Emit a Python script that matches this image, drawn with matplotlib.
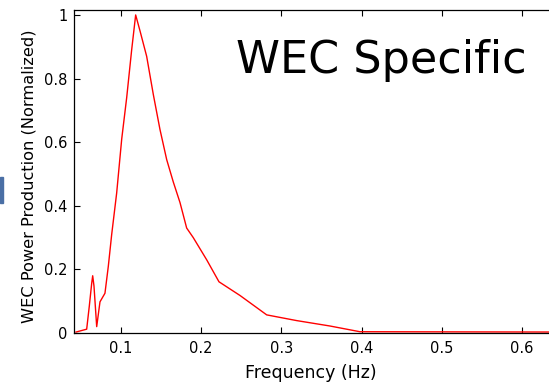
import matplotlib
matplotlib.use('Agg')
import matplotlib.pyplot as plt
from matplotlib.patches import Rectangle

plt.rcParams['font.family'] = ['DejaVu Sans']

# frequency (Hz) and normalized WEC power
freq = [0.0439, 0.0572, 0.0605, 0.0635, 0.0647, 0.0663, 0.0697, 0.0738,
        0.0800, 0.0842, 0.0884, 0.0946, 0.1009, 0.1071, 0.1133, 0.1183,
        0.1237, 0.1320, 0.1403, 0.1486, 0.1570, 0.1652, 0.1736, 0.1819,
        0.1901, 0.2069, 0.2222, 0.2484, 0.2817, 0.2941, 0.3191, 0.3606,
        0.3980, 0.6500]
power = [0.003, 0.012, 0.085, 0.157, 0.180, 0.148, 0.020, 0.098,
         0.125, 0.210, 0.310, 0.440, 0.610, 0.740, 0.890, 1.000,
         0.950, 0.870, 0.750, 0.640, 0.545, 0.475, 0.410, 0.330,
         0.300, 0.230, 0.161, 0.118, 0.057, 0.051, 0.039, 0.022,
         0.004, 0.003]

xticks = [0.1, 0.2, 0.3, 0.4, 0.5, 0.6]
yticks = [0, 0.2, 0.4, 0.6, 0.8, 1]

fig = plt.figure(figsize=(5.49, 3.86), dpi=100)
# axes runs off the right edge of the picture (cropped screenshot)
ax = fig.add_axes([0.1348, 0.1373, 0.8816, 0.838])

ax.plot(freq, power, color='#ff0000', lw=1.0, clip_on=False)

ax.set_xlim(0.0414, 0.645)
ax.set_ylim(0, 1.017)
ax.set_xticks(xticks)
ax.set_xticklabels(['%g' % t for t in xticks])
ax.set_yticks(yticks)
ax.set_yticklabels(['%g' % t for t in yticks])
ax.tick_params(direction='in', length=4, width=0.8, top=True, right=True,
               labelsize=10.5, colors='black')
ax.tick_params(axis='y', pad=4.5)
ax.tick_params(axis='x', pad=6)
for s in ax.spines.values():
    s.set_linewidth(0.9)

ax.set_xlabel('Frequency (Hz)', fontsize=12.5)
ax.xaxis.set_label_coords(0.49, -0.095)
ax.set_ylabel('WEC Power Production (Normalized)', fontsize=11.7)
ax.yaxis.set_label_coords(-0.078, 0.485)

fig.text(236 / 549, 1 - 73 / 386, 'WEC Specific', fontsize=32,
         ha='left', va='baseline')

# bit of a slide graphic peeking in at the left edge
fig.patches.append(Rectangle((0, 0.474), 0.006, 0.067, transform=fig.transFigure,
                             color='#4a6fa5', zorder=5))

fig.savefig('out.png', dpi=100)
